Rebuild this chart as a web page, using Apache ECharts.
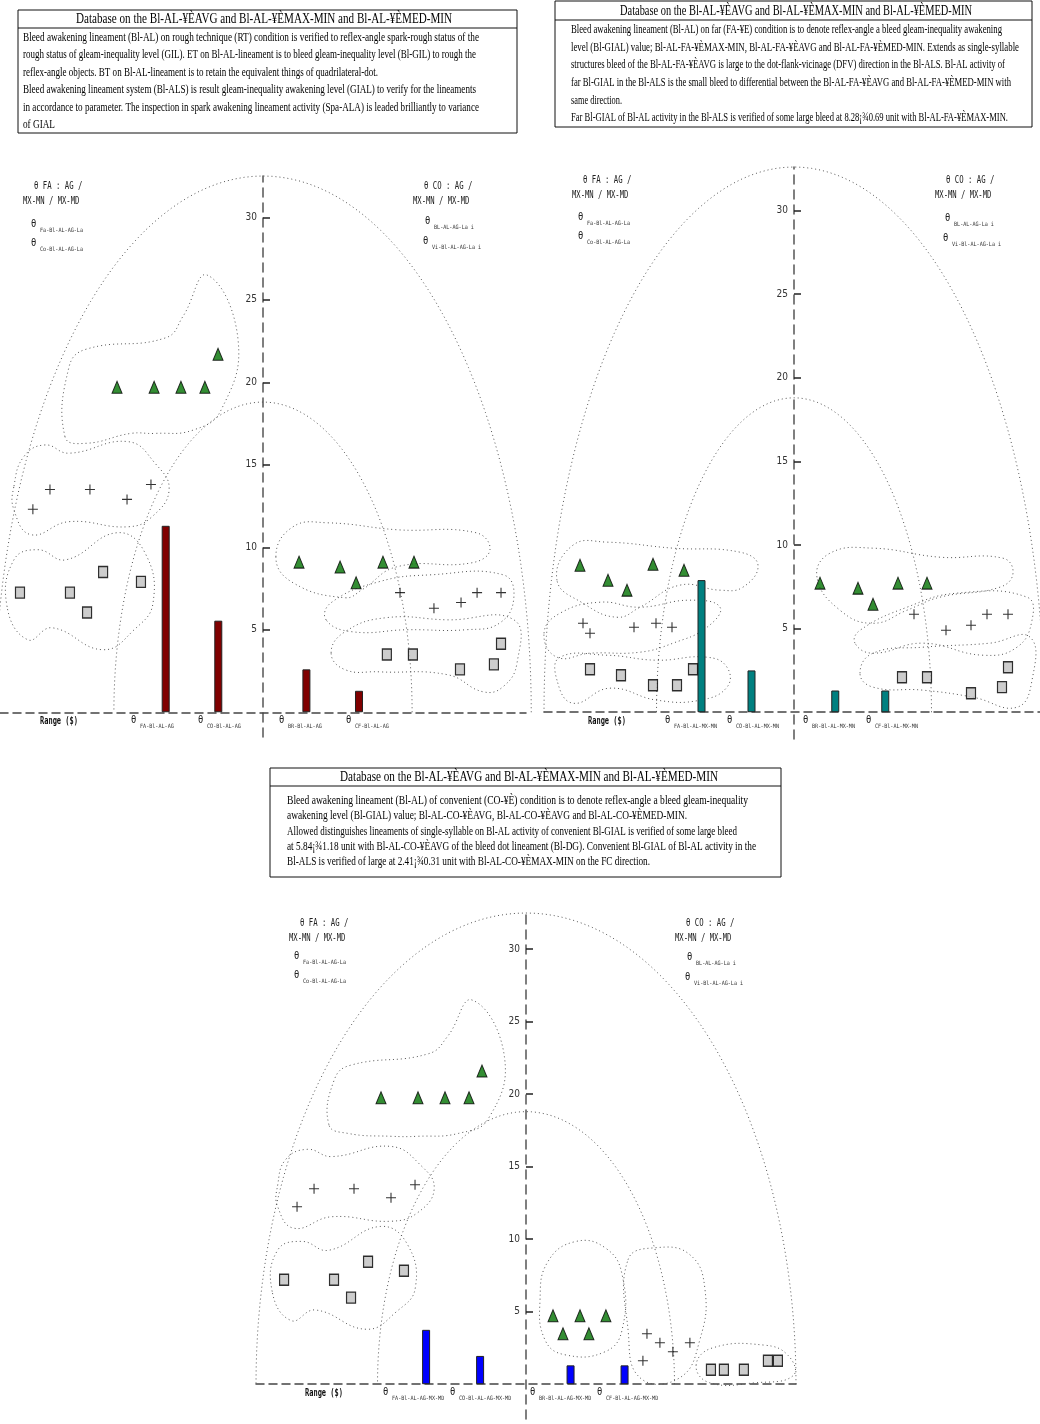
<!DOCTYPE html>
<html>
<head>
<meta charset="utf-8">
<script src="https://cdn.jsdelivr.net/npm/echarts@6/dist/echarts.min.js"></script>
<style>
    html, body { margin: 0; padding: 0; background: #fff; }
    #main { width: 1040px; height: 1424px; }
</style>
</head>
<body>
<div id="main"></div>
<script>
// ---- data ----
const Y_TICKS = [5, 10, 15, 20, 25, 30];
const BAR_X = [-3.7, -1.7, 1.65, 3.65];

// panel 1 : AG (AVG)
const avgBars = [11.3, 5.55, 2.6, 1.3];
const avgTriL = [[-5.55, 19.7], [-4.14, 19.7], [-3.12, 19.7], [-2.21, 19.7], [-1.71, 21.7]];
const avgPlusL = [[-8.75, 12.3], [-8.1, 13.5], [-6.58, 13.5], [-5.17, 12.9], [-4.26, 13.8]];
const avgSqL = [[-9.24, 7.25], [-7.34, 7.25], [-6.69, 6.05], [-6.08, 8.5], [-4.64, 7.9]];
const avgTriR = [[1.37, 9.1], [2.93, 8.8], [3.54, 7.85], [4.56, 9.1], [5.74, 9.1]];
const avgPlusR = [[5.21, 7.25], [6.5, 6.3], [7.53, 6.65], [8.14, 7.25], [9.05, 7.25]];
const avgSqR = [[4.71, 3.5], [5.7, 3.5], [7.49, 2.6], [8.78, 2.9], [9.05, 4.15]];

// panel 2 : MX-MN
const mnBars = [7.9, 2.5, 1.3, 1.3];
const mnTriL = [[-8.56, 8.79], [-7.44, 7.89], [-6.68, 7.3], [-5.64, 8.85], [-4.4, 8.49]];
const mnPlusL = [[-8.44, 5.32], [-8.16, 4.72], [-6.4, 5.08], [-5.52, 5.32], [-4.88, 5.08]];
const mnSqL = [[-8.16, 2.57], [-6.92, 2.21], [-5.64, 1.61], [-4.68, 1.61], [-4.04, 2.57]];
const mnTriR = [[1.04, 7.72], [2.56, 7.42], [3.16, 6.46], [4.16, 7.72], [5.32, 7.72]];
const mnPlusR = [[4.8, 5.86], [6.08, 4.9], [7.08, 5.2], [7.72, 5.86], [8.56, 5.86]];
const mnSqR = [[4.32, 2.09], [5.32, 2.09], [7.08, 1.14], [8.32, 1.5], [8.56, 2.69]];

// panel 3 : MX-MD
const mdBars = [3.75, 1.95, 1.3, 1.3];
const mdTriL = [[-5.37, 19.76], [-4.0, 19.76], [-3.0, 19.76], [-2.11, 19.76], [-1.63, 21.6]];
const mdPlusL = [[-8.48, 12.24], [-7.85, 13.48], [-6.37, 13.48], [-5.0, 12.86], [-4.11, 13.76]];
const mdSqL = [[-8.96, 7.21], [-7.11, 7.21], [-6.48, 5.97], [-5.85, 8.45], [-4.52, 7.83]];
const mdTriR = [[1.0, 4.72], [2.0, 4.72], [2.96, 4.72], [1.37, 3.48], [2.33, 3.48]];
const mdPlusR = [[4.48, 3.48], [4.96, 2.86], [5.44, 2.24], [6.07, 2.86], [4.33, 1.62]];
const mdSqR = [[6.85, 1.0], [7.33, 1.0], [8.07, 1.0], [8.96, 1.62], [9.33, 1.62]];

const avgCats = ['FA-Bl-AL-AG', 'CO-Bl-AL-AG', 'BR-Bl-AL-AG', 'CF-Bl-AL-AG'];
const mnCats = ['FA-Bl-AL-MX-MN', 'CO-Bl-AL-MX-MN', 'BR-Bl-AL-MX-MN', 'CF-Bl-AL-MX-MN'];
const mdCats = ['FA-Bl-AL-AG-MX-MD', 'CO-Bl-AL-AG-MX-MD', 'BR-Bl-AL-AG-MX-MD', 'CF-Bl-AL-AG-MX-MD'];

// dotted outlines round the groups (axis units)
const avgBlobs = [
    [[-7.53, 16.7], [-7.38, 20.9], [-6.73, 22.0], [-3.69, 22.7], [-3.04, 24.0], [-2.13, 26.5], [-0.95, 22.6], [-1.6, 18.3], [-2.66, 17.1], [-4.11, 16.9], [-5.02, 16.9], [-6.73, 16.3]],
    [[-9.47, 13.7], [-9.09, 15.5], [-8.29, 16.2], [-7.38, 15.7], [-5.13, 16.4], [-4.11, 15.1], [-3.57, 13.5], [-4.22, 11.85], [-5.13, 11.24], [-7.38, 11.55], [-8.82, 10.76], [-9.47, 12.27]],
    [[-9.73, 6.39], [-9.47, 9.24], [-8.56, 9.85], [-7.49, 9.24], [-5.55, 10.88], [-4.49, 9.67], [-4.18, 6.64], [-4.9, 5.0], [-6.08, 3.79], [-8.02, 5.12], [-8.94, 4.39]],
    [[0.49, 9.42], [1.14, 11.24], [2.47, 11.48], [5.1, 11.06], [8.1, 10.88], [8.63, 9.85], [7.95, 9.06], [5.1, 8.82], [3.76, 7.42], [3.12, 6.94], [1.14, 7.85]],
    [[2.4, 5.6], [2.59, 6.64], [4.41, 7.91], [6.39, 8.33], [9.13, 8.33], [9.54, 7.0], [9.01, 5.42], [7.72, 5.0], [5.48, 5.0], [3.38, 4.88]],
    [[2.59, 3.6], [3.12, 4.88], [4.68, 5.73], [7.03, 5.6], [9.54, 5.6], [9.66, 3.0], [9.13, 1.55], [8.37, 1.24], [7.03, 2.27], [4.41, 2.45], [3.12, 2.58]]
];
const mnBlobs = [
    [[-9.48, 7.89], [-8.84, 9.99], [-7.48, 10.17], [-4.84, 9.81], [-2.16, 9.57], [-1.44, 8.79], [-2.04, 7.48], [-2.96, 7.3], [-4.56, 7.6], [-6.16, 6.28], [-7.08, 5.68], [-8.44, 6.52]],
    [[-10.0, 4.72], [-9.36, 5.92], [-7.76, 6.58], [-6.16, 6.28], [-4.16, 6.7], [-2.96, 6.28], [-3.48, 5.08], [-4.84, 4.13], [-6.16, 3.59], [-8.16, 3.53], [-9.48, 3.29]],
    [[-9.48, 1.91], [-9.36, 3.29], [-7.48, 3.41], [-5.48, 3.11], [-3.48, 3.29], [-2.68, 2.69], [-2.68, 1.5], [-3.76, 0.72], [-5.48, 0.72], [-7.36, 1.44], [-8.84, 0.54]],
    [[0.92, 8.07], [1.44, 9.51], [3.16, 9.81], [5.84, 9.27], [8.36, 9.21], [8.76, 8.31], [8.24, 7.48], [5.84, 6.88], [4.52, 6.1], [3.16, 5.32], [1.84, 6.1]],
    [[2.44, 4.13], [2.64, 4.9], [4.52, 6.28], [6.52, 7.12], [9.32, 6.88], [9.52, 5.5], [8.92, 3.89], [7.56, 3.41], [5.16, 4.13], [3.16, 3.53]],
    [[2.64, 2.33], [3.16, 3.53], [5.16, 3.89], [7.84, 4.13], [9.44, 4.49], [9.52, 1.91], [8.92, 0.3], [7.16, 0.9], [5.16, 1.32], [3.16, 1.5]]
];
const mdBlobs = [
    [[-7.3, 17.9], [-7.1, 21.0], [-6.5, 22.0], [-3.6, 22.8], [-2.9, 24.0], [-2.0, 26.5], [-0.8, 22.6], [-1.4, 18.3], [-2.5, 17.3], [-4.0, 17.1], [-5.0, 17.1], [-6.6, 17.3]],
    [[-9.2, 13.7], [-8.9, 15.5], [-8.1, 16.2], [-7.2, 15.7], [-5.0, 16.4], [-3.9, 15.1], [-3.4, 13.5], [-4.0, 11.85], [-5.0, 11.24], [-7.2, 11.55], [-8.6, 10.76], [-9.2, 12.27]],
    [[-9.4, 6.39], [-9.2, 9.24], [-8.3, 9.85], [-7.3, 9.24], [-5.4, 10.88], [-4.4, 9.67], [-4.1, 6.64], [-4.8, 5.0], [-5.9, 3.79], [-7.8, 5.12], [-8.7, 4.39]],
    [[0.52, 5.83], [0.81, 8.45], [1.81, 9.83], [2.93, 9.41], [3.56, 7.55], [3.56, 3.76], [2.93, 2.24], [1.44, 2.03], [0.7, 3.07]],
    [[3.78, 8.59], [4.78, 9.41], [6.07, 8.93], [6.63, 6.52], [6.44, 3.07], [5.7, 0.45], [4.22, 0.45], [3.78, 3.76]],
    [[6.3, 1.3], [6.9, 2.5], [8.8, 2.7], [9.7, 2.0], [9.9, 0.6], [8.5, 0.1], [6.8, 0.1]]
];
// half-ellipse arcs [half width, height]
const avgArcs = [[10.2, 32.5], [5.67, 18.8]];
const mnArcs = [[10.0, 32.6], [5.5, 18.8]];
const mdArcs = [[10.0, 32.5], [5.5, 18.8]];

// ---- layout ----
const panels = [
    {grid: {left: 0, top: 176, width: 526, height: 561}, yMin: -1.5, yMax: 32.5, color: '#800000',
        bars: avgBars, pts: [avgTriL, avgPlusL, avgSqL, avgTriR, avgPlusR, avgSqR], blobs: avgBlobs, arcs: avgArcs},
    {grid: {left: 544, top: 167, width: 500, height: 572}, yMin: -1.6, yMax: 32.6, color: '#008080',
        bars: mnBars, pts: [mnTriL, mnPlusL, mnSqL, mnTriR, mnPlusR, mnSqR], blobs: mnBlobs, arcs: mnArcs},
    {grid: {left: 256, top: 913, width: 540, height: 506}, yMin: -2.4, yMax: 32.5, color: '#0000FF',
        bars: mdBars, pts: [mdTriL, mdPlusL, mdSqL, mdTriR, mdPlusR, mdSqR], blobs: mdBlobs, arcs: mdArcs}
];

const DOT = {fill: 'none', stroke: '#555', lineWidth: 1, lineDash: [1, 3]};
const NARROW = '"Liberation Sans Narrow", "DejaVu Sans Condensed", "Liberation Sans", sans-serif';
const MONO = '"DejaVu Sans Mono", monospace';
const SERIF = '"Liberation Serif", "DejaVu Serif", serif';

const markTri = {symbol: 'triangle', symbolSize: [10, 12], itemStyle: {color: '#007000', borderColor: '#000', borderWidth: 1}};
const markPlus = {symbol: 'path://M5 0V10M0 5H10', symbolSize: 10, itemStyle: {color: 'rgba(0,0,0,0)', borderColor: '#000', borderWidth: 1.1}};
const markSq = {symbol: 'rect', symbolSize: [9, 11], itemStyle: {color: '#c0c0c0', borderColor: '#000', borderWidth: 1.3}};
const markers = [markTri, markPlus, markSq, markTri, markPlus, markSq];

let grids = [], xAxes = [], yAxes = [], series = [];
panels.forEach(function (p, i) {
    grids.push(Object.assign({containLabel: false, outerBoundsMode: 'none'}, p.grid));
    xAxes.push({
        gridIndex: i, type: 'value', min: -10, max: 10,
        axisLine: {onZero: true, lineStyle: {color: '#444', width: 1.5, type: [8, 5]}},
        axisTick: {show: false}, axisLabel: {show: false}, splitLine: {show: false}
    });
    // vertical axis sits in the middle of the grid (x = 0)
    yAxes.push({
        gridIndex: i, type: 'value', min: p.yMin, max: p.yMax, position: 'left',
        offset: -p.grid.width / 2,
        axisLine: {onZero: false, lineStyle: {color: '#555', width: 1.5, type: [9, 6]}},
        axisTick: {show: true, inside: true, length: 7, customValues: Y_TICKS, lineStyle: {color: '#222', width: 1.5}},
        axisLabel: {customValues: Y_TICKS, color: '#333', fontSize: 10, fontFamily: NARROW, margin: 6},
        splitLine: {show: false}
    });
    series.push({
        type: 'custom', xAxisIndex: i, yAxisIndex: i, silent: true, z: 1,
        data: p.arcs,
        renderItem: function (params, api) {
            const rx = api.value(0), ry = api.value(1);
            const pts = [];
            for (let k = 0; k <= 90; k++) {
                const t = Math.PI * k / 90;
                pts.push(api.coord([rx * Math.cos(t), ry * Math.sin(t)]));
            }
            return {type: 'polyline', shape: {points: pts}, style: DOT};
        }
    });
    series.push({
        type: 'custom', xAxisIndex: i, yAxisIndex: i, silent: true, z: 1,
        data: p.blobs.map(function (b) { return b[0]; }),
        renderItem: function (params, api) {
            const pts = p.blobs[params.dataIndex].map(function (pt) { return api.coord(pt); });
            return {type: 'polygon', shape: {points: pts, smooth: 0.45}, style: DOT};
        }
    });
    series.push({
        type: 'bar', xAxisIndex: i, yAxisIndex: i, barWidth: 8, z: 3,
        data: BAR_X.map(function (x, k) { return [x, p.bars[k]]; }),
        itemStyle: {color: p.color, borderColor: '#222', borderWidth: 1}
    });
    p.pts.forEach(function (group, k) {
        series.push(Object.assign({type: 'scatter', xAxisIndex: i, yAxisIndex: i, z: 4, data: group}, markers[k]));
    });
});

// ---- text ----
const ctx = document.createElement('canvas').getContext('2d');
function txt(str, x, y, size, family, opt) {
    opt = opt || {};
    const font = (opt.bold ? 'bold ' : '') + size + 'px ' + family;
    let sx = opt.scale || 1;
    if (opt.w) {
        ctx.font = font;
        sx = opt.w / ctx.measureText(str).width;
    }
    return {
        type: 'text', x: x, y: y, scaleX: sx, silent: true,
        style: {text: str, font: font, fill: opt.color || '#000', align: 'left', verticalAlign: 'middle',
            textAlign: 'left', textVerticalAlign: 'middle'}
    };
}
function theta(x, y, sub) {
    return [txt('θ', x, y, 11, MONO, {scale: 0.8, color: '#222'}), txt(sub, x + 9, y + 6, 6, MONO, {scale: 0.85, color: '#333'})];
}

const title = 'Database on the Bl-AL-¥ÈAVG and Bl-AL-¥ÈMAX-MIN and Bl-AL-¥ÈMED-MIN';
const box1 = [
    ['Bleed awakening lineament (Bl-AL) on rough technique (RT) condition is verified to reflex-angle spark-rough status of the', 456],
    ['rough status of gleam-inequality level (GIL). ET on Bl-AL-lineament is to bleed gleam-inequality level (Bl-GIL) to rough the', 453],
    ['reflex-angle objects. BT on Bl-AL-lineament is to retain the equivalent things of quadrilateral-dot.', 355],
    ['Bleed awakening lineament system (Bl-ALS) is result gleam-inequality awakening level (GIAL) to verify for the lineaments', 453],
    ['in accordance to parameter. The inspection in spark awakening lineament activity (Spa-ALA) is leaded brilliantly to variance', 456],
    ['of GIAL', 32]
];
const box2 = [
    ['Bleed awakening lineament (Bl-AL) on far (FA-¥E) condition is to denote reflex-angle a bleed gleam-inequality awakening', 431],
    ['level (Bl-GIAL) value; Bl-AL-FA-¥ÈMAX-MIN, Bl-AL-FA-¥ÈAVG and Bl-AL-FA-¥ÈMED-MIN. Extends as single-syllable', 448],
    ['structures bleed of the Bl-AL-FA-¥ÈAVG is large to the dot-flank-vicinage (DFV) direction in the Bl-ALS. Bl-AL activity of', 434],
    ['far Bl-GIAL in the Bl-ALS is the small bleed to differential between the Bl-AL-FA-¥ÈAVG and Bl-AL-FA-¥ÈMED-MIN with', 440],
    ['same direction.', 51],
    ['Far Bl-GIAL of Bl-AL activity in the Bl-ALS is verified of some large bleed at 8.28¡¾0.69 unit with Bl-AL-FA-¥ÈMAX-MIN.', 437]
];
const box3 = [
    ['Bleed awakening lineament (Bl-AL) of convenient (CO-¥È) condition is to denote reflex-angle a bleed gleam-inequality', 461],
    ['awakening level (Bl-GIAL) value; Bl-AL-CO-¥ÈAVG, Bl-AL-CO-¥ÈAVG and Bl-AL-CO-¥ÈMED-MIN.', 400],
    ['Allowed distinguishes lineaments of single-syllable on Bl-AL activity of convenient Bl-GIAL is verified of some large bleed', 450],
    ['at 5.84¡¾1.18 unit with Bl-AL-CO-¥ÈAVG of the bleed dot lineament (Bl-DG). Convenient Bl-GIAL of Bl-AL activity in the', 469],
    ['Bl-ALS is verified of large at 2.41¡¾0.31 unit with Bl-AL-CO-¥ÈMAX-MIN on the FC direction.', 363]
];

let g = [];
function box(x1, y1, x2, y2, sepY, titleX, titleW, titleY, lines, lx, ly0, dy, size) {
    g.push({type: 'rect', shape: {x: x1, y: y1, width: x2 - x1, height: y2 - y1}, style: {fill: '#fff', stroke: '#111', lineWidth: 1}, z: 0});
    g.push({type: 'line', shape: {x1: x1, y1: sepY, x2: x2, y2: sepY}, style: {stroke: '#111', lineWidth: 1}});
    g.push(txt(title, titleX, titleY, 14, SERIF, {w: titleW}));
    lines.forEach(function (l, k) { g.push(txt(l[0], lx, ly0 + k * dy, size, SERIF, {w: l[1]})); });
}
box(18, 10, 517, 133, 28, 76, 376, 19, box1, 23, 37.5, 17.5, 12);
box(555, 1, 1032, 127, 20, 620, 352, 11, box2, 571, 30, 17.6, 12);
box(270, 768, 781, 877, 786, 340, 378, 777, box3, 287, 801, 15.3, 11.5);

function head(xa, ya, xb, yb, thL, thR) {
    g.push(txt('θ FA : AG /', xa + 11, ya, 10, MONO, {scale: 0.73, color: '#222'}));
    g.push(txt('MX-MN / MX-MD', xa, ya + 15, 10, MONO, {scale: 0.72, color: '#222'}));
    g.push.apply(g, theta(thL[0], thL[1], 'Fa-Bl-AL-AG-La'));
    g.push.apply(g, theta(thL[0], thL[1] + 19, 'Co-Bl-AL-AG-La'));
    g.push(txt('θ CO : AG /', xb + 11, yb, 10, MONO, {scale: 0.73, color: '#222'}));
    g.push(txt('MX-MN / MX-MD', xb, yb + 15, 10, MONO, {scale: 0.72, color: '#222'}));
    g.push.apply(g, theta(thR[0], thR[1], 'BL-AL-AG-La i'));
    g.push.apply(g, theta(thR[0] - 2, thR[1] + 20, 'Vi-Bl-AL-AG-La i'));
}
head(23, 186, 413, 186, [31, 224], [425, 221]);
head(572, 180, 935, 180, [578, 217], [945, 218]);
head(289, 923, 675, 923, [294, 956], [687, 957]);

function foot(rx, y, xs, cats) {
    g.push(txt('Range ($)', rx, y + 1, 10, MONO, {bold: true, scale: 0.7, color: '#111'}));
    xs.forEach(function (x, k) { g.push.apply(g, theta(x, y, cats[k])); });
}
foot(40, 720, [131, 198, 279, 346], avgCats);
foot(588, 720, [665, 727, 803, 866], mnCats);
foot(305, 1392, [383, 450, 530, 597], mdCats);

const chart = echarts.init(document.getElementById('main'));
chart.setOption({
    animation: false,
    backgroundColor: '#fff',
    grid: grids,
    xAxis: xAxes,
    yAxis: yAxes,
    series: series,
    graphic: {elements: g}
});

window.onresize = function () {
    chart.resize();
};
</script>
</body>
</html>
